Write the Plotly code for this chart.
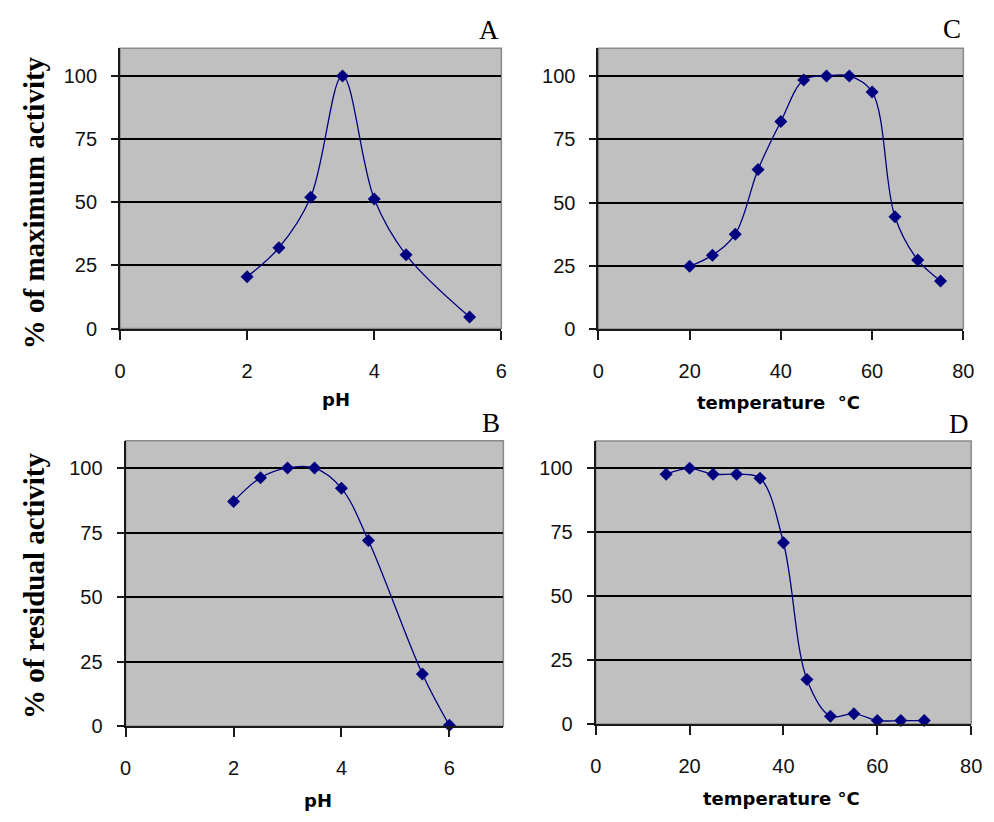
import plotly.graph_objects as go

# ---- data ----
ph_a = [2, 2.5, 3, 3.5, 4, 4.5, 5.5]
act_a = [20.5, 32, 52, 100, 51.3, 29.2, 4.6]

temp_c = [20, 25, 30, 35, 40, 45, 50, 55, 60, 65, 70, 75]
act_c = [24.8, 29.2, 37.5, 63, 82, 98.4, 100, 100, 93.7, 44.4, 27.3, 19.0]

ph_b = [2, 2.5, 3, 3.5, 4, 4.5, 5.5, 6]
act_b = [87, 96.2, 100, 100, 92.1, 71.9, 20.2, 0.3]

temp_d = [15, 20, 25, 30, 35, 40, 45, 50, 55, 60, 65, 70]
act_d = [97.7, 100, 97.7, 97.7, 96.1, 70.9, 17.4, 3.0, 4.0, 1.3, 1.3, 1.3]

y_ticks = [0, 25, 50, 75, 100]
x_ticks_ph = [0, 2, 4, 6]
x_ticks_temp = [0, 20, 40, 60, 80]

W, H = 994, 822
NAVY = "#000080"

def fx(px):
    return px / W

def fy(py):
    return 1 - py / H

fig = go.Figure()

panels = [
    # (xaxis, yaxis, x, y, xrange, xticks, left, right, top, bottom_px, y100_px)
    ("x", "y", ph_a, act_a, [0, 6], x_ticks_ph, 116, 504, 49, 333, 77),
    ("x2", "y2", temp_c, act_c, [0, 80], x_ticks_temp, 602.7, 974, 49, 333.5, 77),
    ("x3", "y3", ph_b, act_b, [0, 7], x_ticks_ph, 121.7, 506, 446.7, 736, 474.3),
    ("x4", "y4", temp_d, act_d, [0, 80], x_ticks_temp, 600, 982, 447, 733.7, 474.7),
]

tick_font = dict(family="Liberation Sans, Arial, sans-serif", size=20, color="#111")

for i, (xa, ya, xs, ys, xr, xt, l, r, t, b, y100) in enumerate(panels):
    fig.add_trace(go.Scatter(
        x=xs, y=ys, xaxis=xa, yaxis=ya, mode="lines+markers",
        line=dict(color=NAVY, width=1.3, shape="spline", smoothing=1.0),
        marker=dict(symbol="diamond", size=10, color=NAVY),
        showlegend=False, cliponaxis=False,
    ))
    ymax = (b - t) / ((b - y100) / 100.0)
    sfx = "" if i == 0 else str(i + 1)
    fig.layout["xaxis" + sfx] = dict(
        domain=[fx(l), fx(r)], range=xr, anchor=ya, tickvals=xt,
        showgrid=False, zeroline=False, showline=True, linecolor="#1a1a1a",
        linewidth=2, ticks="outside", ticklen=9, tickwidth=1.5, tickcolor="#1a1a1a",
        tickfont=tick_font, ticklabelstandoff=14, fixedrange=True,
    )
    fig.layout["yaxis" + sfx] = dict(
        domain=[fy(b), fy(t)], range=[0, ymax], anchor=xa, tickvals=y_ticks,
        showgrid=True, gridcolor="#000000", gridwidth=1.5, zeroline=False,
        showline=True, linecolor="#1a1a1a", linewidth=2, ticks="outside",
        ticklen=7, tickwidth=1.5, tickcolor="#1a1a1a", tickfont=tick_font,
        ticklabelstandoff=10, fixedrange=True,
    )
    # gray plot-area border (top / right)
    fig.add_shape(type="rect", xref="paper", yref="paper",
                  x0=fx(l), x1=fx(r), y0=fy(b), y1=fy(t),
                  line=dict(color="#8a8a8a", width=1.5), layer="below")

# axis titles
xt_font = dict(family="DejaVu Sans, sans-serif", size=18, color="#000")
ann = [
    ("<b>pH</b>", 335.5, 405, xt_font, 0),
    ("<b>temperature\u00a0 °C</b>", 786, 408, xt_font, 0),
    ("<b>pH</b>", 317, 811, xt_font, 0),
    ("<b>temperature °C</b>", 788.5, 809, xt_font, 0),
]
yt_font = dict(family="Liberation Serif, Times New Roman, serif", size=29, color="#000")
ann += [
    ("<b>% of maximum activity</b>", 28.5, 206, yt_font, -90),
    ("<b>% of residual activity</b>", 28.5, 594, yt_font, -90),
]
lt_font = dict(family="Liberation Serif, Times New Roman, serif", size=27, color="#000")
ann += [
    ("A", 491, 30.5, lt_font, 0),
    ("C", 962.5, 29, lt_font, 0),
    ("B", 493, 428.5, lt_font, 0),
    ("D", 970, 429.5, lt_font, 0),
]
for text, px, py, font, ang in ann:
    fig.add_annotation(text=text, x=fx(px), y=fy(py), xref="paper", yref="paper",
                       xanchor="center", yanchor="middle", showarrow=False,
                       font=font, textangle=ang)

fig.update_layout(
    width=W, height=H, autosize=False,
    margin=dict(l=0, r=0, t=0, b=0),
    paper_bgcolor="white", plot_bgcolor="#C0C0C0",
)

fig.write_html("out.html", config={"displayModeBar": False})
